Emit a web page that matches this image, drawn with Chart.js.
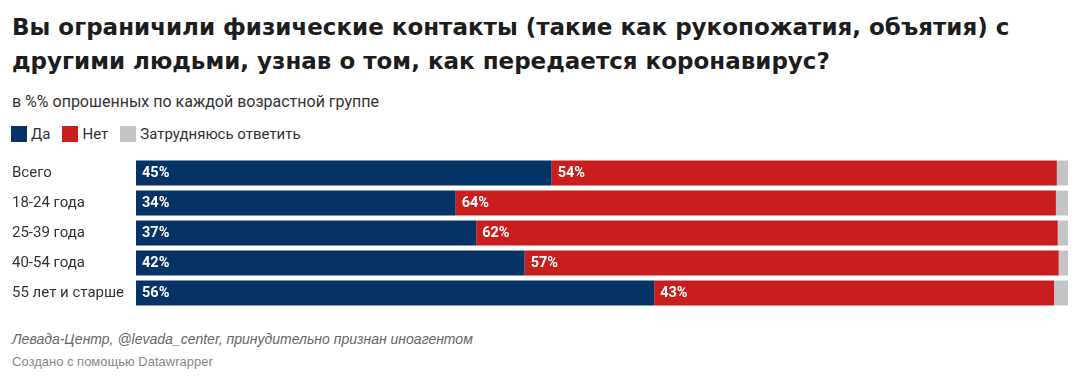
<!DOCTYPE html>
<html>
<head>
<meta charset="utf-8">
<script src="https://cdn.jsdelivr.net/npm/chart.js@4"></script>
<style>
  body { margin: 0; background: #fff; width: 1075px; height: 379px; overflow: hidden; position: relative; }
  #title { position: absolute; left: 12px; top: 10px; width: 1050px; font: bold 23px "DejaVu Sans", sans-serif; line-height: 34px; color: #1d1d1d; }
  #subtitle { position: absolute; left: 12px; top: 92px; font: 16px Roboto, sans-serif; color: #333; }
  #legend { position: absolute; left: 11px; top: 126px; font: 15px Roboto, sans-serif; line-height: 16px; color: #333; display: flex; }
  #legend span.item { display: flex; align-items: center; margin-right: 12px; }
  #legend span.box { width: 16px; height: 16px; margin-right: 4px; display: inline-block; }
  #wrap { position: absolute; left: 0; top: 148.5px; width: 1075px; height: 168px; }
  #source { position: absolute; left: 12px; top: 331px; font: italic 14px "Liberation Sans", Arial, sans-serif; color: #666; }
  #credit { position: absolute; left: 12px; top: 354px; font: 13px "Liberation Sans", Arial, sans-serif; color: #888; }
</style>
</head>
<body>
<div id="title">Вы ограничили физические контакты (такие как рукопожатия, объятия) с другими людьми, узнав о том, как передается коронавирус?</div>
<div id="subtitle">в %% опрошенных по каждой возрастной группе</div>
<div id="legend"></div>
<div id="wrap"><canvas id="chart"></canvas></div>
<div id="source">Левада-Центр, @levada_center, принудительно признан иноагентом</div>
<div id="credit">Создано с помощью Datawrapper</div>
<script>
// DADOS
const categorias = ['Всего', '18-24 года', '25-39 года', '40-54 года', '55 лет и старше'];
const seriesNomes = ['Да', 'Нет', 'Затрудняюсь ответить'];
const da = [44.6, 34.3, 36.5, 41.7, 55.6];
const net = [54.2, 64.4, 62.4, 57.3, 42.9];
const zatr = [1.2, 1.3, 1.2, 1.1, 1.5];
const cores = ['#063366', '#c81e1e', '#c5c5c5'];
const mostrarRotulo = [true, true, false];

// LEGENDA
const legenda = document.getElementById('legend');
seriesNomes.forEach((nome, i) => {
  legenda.innerHTML += `<span class="item"><span class="box" style="background:${cores[i]}"></span>${nome}</span>`;
});

// rotulos dentro das barras
const rotulos = {
  id: 'rotulos',
  afterDatasetsDraw(chart) {
    const ctx = chart.ctx;
    ctx.save();
    ctx.font = 'bold 14.5px Roboto, sans-serif';
    ctx.fillStyle = '#fff';
    ctx.textBaseline = 'middle';
    chart.data.datasets.forEach((ds, i) => {
      if (!mostrarRotulo[i]) return;
      chart.getDatasetMeta(i).data.forEach((bar, j) => {
        ctx.fillText(Math.round(ds.data[j]) + '%', bar.base + 6, bar.y + 0.5);
      });
    });
    ctx.restore();
  }
};

const valores = [da, net, zatr];

new Chart(document.getElementById('chart'), {
  type: 'bar',
  data: {
    labels: categorias,
    datasets: seriesNomes.map((nome, i) => ({
      label: nome,
      data: valores[i],
      backgroundColor: cores[i],
      borderWidth: 0,
      categoryPercentage: 1,
      barPercentage: 25 / 30
    }))
  },
  options: {
    indexAxis: 'y',
    responsive: true,
    maintainAspectRatio: false,
    animation: false,
    layout: { padding: { left: 12, right: 7, top: 0, bottom: 0 } },
    plugins: { legend: { display: false }, tooltip: { enabled: false } },
    scales: {
      x: { stacked: true, min: 0, max: 100, display: false },
      y: {
        stacked: true,
        grid: { display: false },
        border: { display: false },
        ticks: { crossAlign: 'far', color: '#333', font: { family: 'Roboto', size: 15 }, padding: 0 },
        afterFit(scale) { scale.width = 124; }
      }
    }
  },
  plugins: [rotulos]
});
</script>
</body>
</html>
